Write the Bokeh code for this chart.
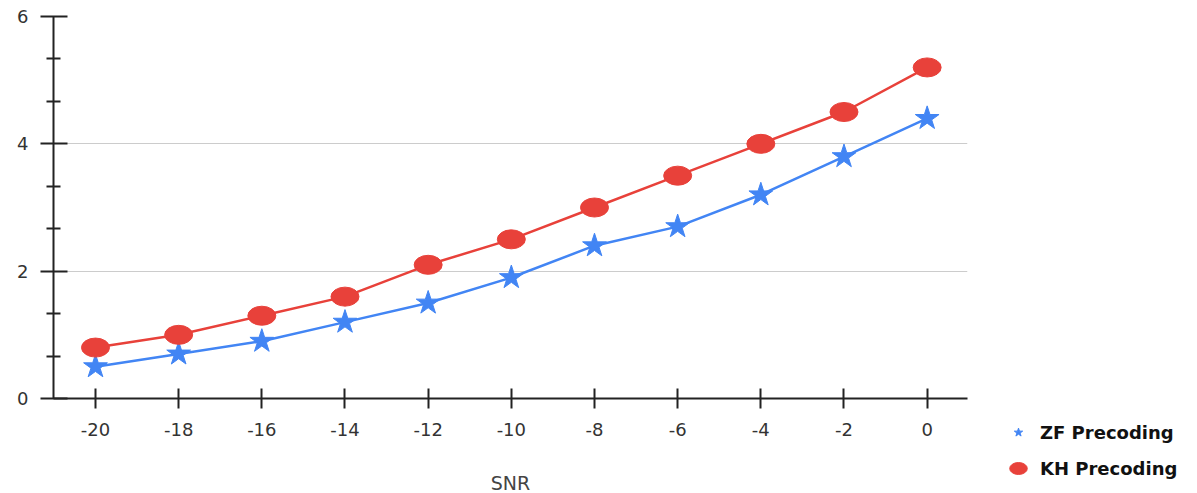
from bokeh.plotting import figure
from bokeh.models import Range1d, FixedTicker, Legend, LegendItem, ColumnDataSource
from bokeh.embed import file_html
from bokeh.resources import INLINE

snr = [-20, -18, -16, -14, -12, -10, -8, -6, -4, -2, 0]
zf = [0.5, 0.7, 0.9, 1.2, 1.5, 1.9, 2.4, 2.7, 3.2, 3.8, 4.4]
kh = [0.8, 1.0, 1.3, 1.6, 2.1, 2.5, 3.0, 3.5, 4.0, 4.5, 5.2]
x_ticks = [-20, -18, -16, -14, -12, -10, -8, -6, -4, -2, 0]
y_ticks = [0, 2, 4, 6]
y_minor = [0.667, 1.333, 2.667, 3.333, 4.667, 5.333]

BLUE = "#4285f4"
RED = "#e8413a"
FONT = "DejaVu Sans"

p = figure(frame_width=914, frame_height=382, output_backend="svg", toolbar_location=None,
           x_range=Range1d(-21.01, 0.97), y_range=Range1d(0, 6),
           min_border_left=53, min_border_top=16, min_border_right=0,
           min_border_bottom=92, outline_line_color=None)

src = ColumnDataSource(dict(x=snr, zf=zf, kh=kh))

zl = p.line("x", "zf", source=src, line_color=BLUE, line_width=2.5)
zs = p.scatter("x", "zf", source=src, marker="star", size=25, fill_color=BLUE,
               line_color=BLUE)
kl = p.line("x", "kh", source=src, line_color=RED, line_width=2.5)
ke = p.ellipse("x", "kh", source=src, width=28, height=19, width_units="screen",
               height_units="screen", fill_color=RED, line_color=RED)

p.xgrid.visible = False
p.ygrid.grid_line_color = "#cccccc"
p.ygrid.grid_line_width = 1
p.ygrid.ticker = FixedTicker(ticks=y_ticks)

p.xaxis.ticker = FixedTicker(ticks=x_ticks)
p.yaxis.ticker = FixedTicker(ticks=y_ticks, minor_ticks=y_minor)
p.xaxis.major_label_overrides = {t: str(t) for t in x_ticks}

for ax in (p.xaxis[0], p.yaxis[0]):
    ax.axis_line_color = "#222222"
    ax.axis_line_width = 2
    ax.major_tick_line_color = "#222222"
    ax.major_tick_line_width = 2
    ax.minor_tick_line_color = "#222222"
    ax.minor_tick_line_width = 2
    ax.major_label_text_font = FONT
    ax.major_label_text_font_size = "18px"
    ax.major_label_text_color = "#333333"

p.yaxis.major_tick_in = 14
p.yaxis.major_tick_out = 13
p.yaxis.minor_tick_in = 7
p.yaxis.minor_tick_out = 7
p.yaxis.major_label_standoff = 12

p.xaxis.major_tick_in = 10
p.xaxis.major_tick_out = 10
p.xaxis.minor_tick_line_color = None
p.xaxis.major_label_standoff = 14
p.xaxis.axis_label = "SNR"
p.xaxis.axis_label_text_font = FONT
p.xaxis.axis_label_text_font_style = "normal"
p.xaxis.axis_label_text_font_size = "19px"
p.xaxis.axis_label_text_color = "#444444"
p.xaxis.axis_label_standoff = 33

legend = Legend(items=[LegendItem(label="ZF Precoding", renderers=[zs]),
                       LegendItem(label="KH Precoding", renderers=[ke])],
                location=(40, -81), border_line_color=None,
                background_fill_alpha=0,
                label_text_font=FONT, label_text_font_style="bold",
                label_text_font_size="18px", label_text_color="#111111",
                glyph_width=22, glyph_height=22, spacing=14, label_standoff=11,
                padding=0, margin=0)
p.add_layout(legend, "right")

open("out.html", "w").write(file_html(p, INLINE))
